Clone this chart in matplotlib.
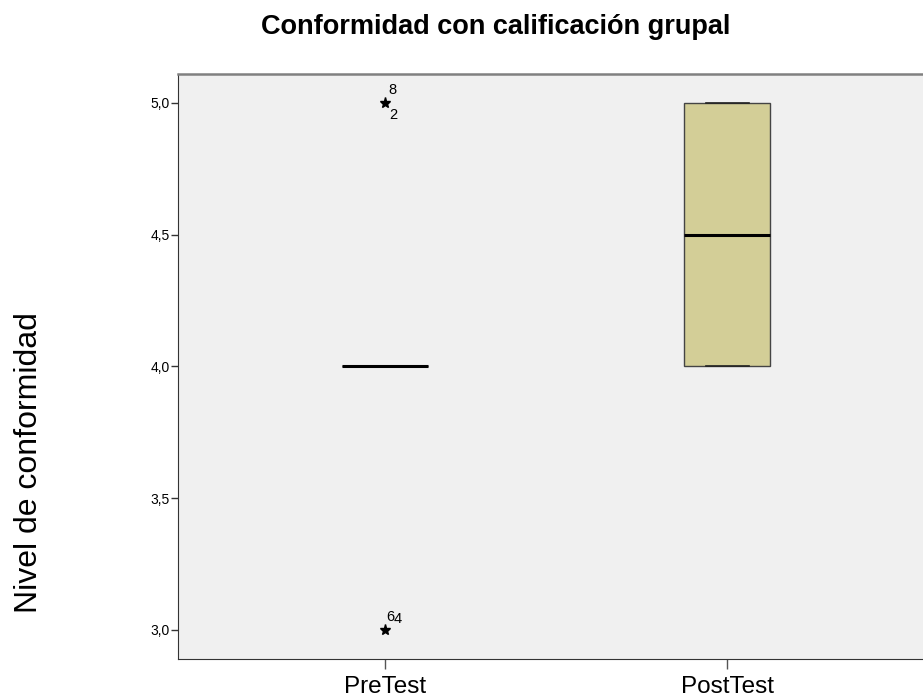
import matplotlib
matplotlib.use("Agg")
import matplotlib.pyplot as plt

plt.rcParams['font.family'] = ['Liberation Sans', 'DejaVu Sans']

# datos
grupos = ["PreTest", "PostTest"]
q1 = [4.0, 4.0]
mediana = [4.0, 4.5]
q3 = [4.0, 5.0]
bigote_inf = [4.0, 4.0]
bigote_sup = [4.0, 5.0]
atipicos = [[5.0, 3.0], []]
etiquetas_atip = [["8", "2"], []]
etiquetas_bajo = [["6", "4"], []]
yticks = [3.0, 3.5, 4.0, 4.5, 5.0]

stats = []
for i in range(len(grupos)):
    stats.append(dict(label=grupos[i], q1=q1[i], med=mediana[i], q3=q3[i],
                      whislo=bigote_inf[i], whishi=bigote_sup[i], fliers=[]))

fig = plt.figure(figsize=(9.23, 7), dpi=100)
ax = fig.add_axes([0.193, 0.0586, 0.819, 0.8357])
ax.set_facecolor("#F0F0F0")

ax.bxp(stats, positions=[1, 2], widths=0.25, patch_artist=True,
       boxprops=dict(facecolor="#D3CE97", edgecolor="#444444", linewidth=1),
       medianprops=dict(color="black", linewidth=2.2),
       whiskerprops=dict(color="#444444", linewidth=1),
       capprops=dict(color="#222222", linewidth=1.2), capwidths=0.125)

# valores extremos (estrellas) con numero de caso
for i, vals in enumerate(atipicos):
    for v in vals:
        ax.plot(i + 1, v, marker="*", color="black", markersize=8, linestyle="none")
    if vals:
        ax.annotate(etiquetas_atip[i][0], (i + 1, vals[0]), xytext=(5.5, 9.5),
                    textcoords="offset points", fontsize=10.5, ha="center", va="center")
        ax.annotate(etiquetas_atip[i][1], (i + 1, vals[0]), xytext=(6, -8.5),
                    textcoords="offset points", fontsize=10.5, ha="center", va="center")
        ax.annotate(etiquetas_bajo[i][0], (i + 1, vals[1]), xytext=(3.8, 9.4),
                    textcoords="offset points", fontsize=10.5, ha="center", va="center")
        ax.annotate(etiquetas_bajo[i][1], (i + 1, vals[1]), xytext=(9.4, 8),
                    textcoords="offset points", fontsize=10.5, ha="center", va="center")

ax.set_xlim(1 - 0.605, 2 + 0.605)
ax.set_ylim(2.890, 5.110)
ax.set_yticks(yticks)
ax.set_yticklabels([f"{t:.1f}".replace(".", ",") for t in yticks], fontsize=10)
ax.set_xticks([1, 2])
ax.set_xticklabels(grupos, fontsize=17.5)
ax.tick_params(axis="y", direction="out", length=5, width=1, color="#333333", pad=1)
ax.tick_params(axis="x", direction="out", length=7, width=1, color="#555555", pad=5)

for s in ["left", "bottom"]:
    ax.spines[s].set_color("#333333")
ax.spines["top"].set_color("#808080")
ax.spines["top"].set_linewidth(1.8)
ax.spines["right"].set_visible(False)

fig.text(0.537, 0.961, "Conformidad con calificación grupal", fontsize=19.5,
         fontweight="bold", ha="center", va="center")
fig.text(0.031, 0.339, "Nivel de conformidad", fontsize=23, rotation=90,
         ha="center", va="center")

fig.savefig("out.png", dpi=100)
